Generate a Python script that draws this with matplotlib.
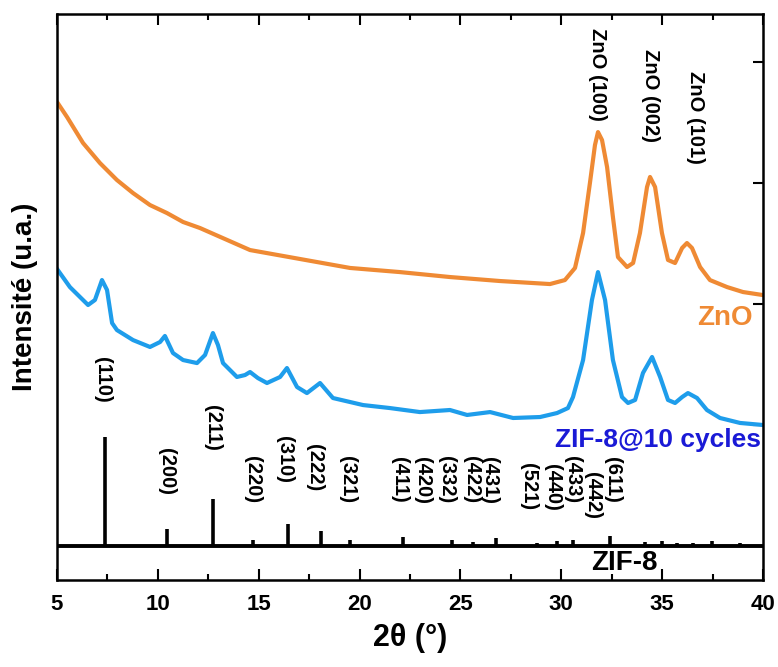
import matplotlib
matplotlib.use("Agg")
import matplotlib.pyplot as plt
from matplotlib.ticker import MultipleLocator

plt.rcParams['font.family'] = ['Liberation Sans', 'DejaVu Sans']
plt.rcParams['font.weight'] = 'bold'

# ---- data (2theta in degrees, intensity in arbitrary units, offset stacked) ----
zno_x = [5.0, 5.50, 6.29, 7.13, 7.97, 8.77, 9.61, 10.45, 11.25, 12.09, 14.57, 19.53,
         22.00, 24.48, 26.96, 29.44, 30.18, 30.68, 31.08, 31.42, 31.67, 31.82, 32.02,
         32.27, 32.56, 32.81, 33.26, 33.56, 33.90, 34.25, 34.40, 34.65, 34.99, 35.29,
         35.64, 35.99, 36.23, 36.48, 36.88, 37.37, 38.22, 39.01, 40.0]
zno_y = [3.67, 3.545, 3.331, 3.165, 3.025, 2.917, 2.818, 2.752, 2.678, 2.628, 2.446, 2.298,
         2.264, 2.223, 2.190, 2.165, 2.198, 2.298, 2.587, 3.0, 3.314, 3.421, 3.355,
         3.132, 2.719, 2.388, 2.306, 2.339, 2.587, 2.967, 3.050, 2.967, 2.587, 2.364,
         2.339, 2.463, 2.504, 2.463, 2.306, 2.198, 2.140, 2.099, 2.074]

zif10_x = [5.0, 5.64, 6.54, 6.88, 7.23, 7.48, 7.73, 7.97, 8.77, 9.61, 10.11, 10.35, 10.75,
           11.25, 11.94, 12.34, 12.73, 12.98, 13.23, 13.92, 14.32, 14.57, 14.96, 15.41,
           16.06, 16.40, 16.90, 17.39, 18.04, 18.68, 19.53, 20.17, 21.51, 22.99, 24.48,
           25.33, 26.47, 27.61, 28.95, 29.79, 30.33, 30.58, 31.08, 31.52, 31.82, 32.17,
           32.56, 33.01, 33.31, 33.66, 34.05, 34.50, 34.90, 35.29, 35.64, 35.99, 36.28,
           36.73, 37.22, 37.87, 38.86, 40.0]
zif10_y = [2.29, 2.140, 1.992, 2.033, 2.198, 2.116, 1.843, 1.785, 1.702, 1.645, 1.686, 1.736, 1.595,
           1.537, 1.512, 1.579, 1.760, 1.661, 1.512, 1.397, 1.413, 1.438, 1.388, 1.347,
           1.397, 1.471, 1.314, 1.264, 1.347, 1.223, 1.190, 1.165, 1.140, 1.107, 1.124,
           1.083, 1.107, 1.058, 1.066, 1.099, 1.140, 1.231, 1.537, 2.033, 2.264, 2.033,
           1.537, 1.231, 1.182, 1.207, 1.430, 1.562, 1.397, 1.207, 1.182, 1.231, 1.264,
           1.223, 1.124, 1.058, 1.017, 1.0]

zif8_peaks = [7.38, 10.45, 12.73, 14.72, 16.45, 18.09, 19.53, 22.15, 24.58, 25.62, 26.76,
              28.80, 29.79, 30.58, 32.42, 34.15, 34.99, 35.74, 36.53, 37.47, 38.86]
zif8_heights = [0.90, 0.14, 0.39, 0.05, 0.18, 0.12, 0.05, 0.075, 0.05, 0.03, 0.065,
                0.025, 0.04, 0.05, 0.08, 0.03, 0.04, 0.025, 0.025, 0.04, 0.025]

hkl_labels = ['(110)', '(200)', '(211)', '(220)', '(310)', '(222)', '(321)', '(411)', '(420)',
              '(332)', '(422)', '(431)', '(521)', '(440)', '(433)', '(442)', '(611)']
hkl_x = [7.28, 10.45, 12.73, 14.67, 16.30, 17.79, 19.38, 22.00, 23.10, 24.33, 25.57, 26.42,
         28.35, 29.54, 30.58, 31.57, 32.56]
hkl_y = [1.372, 0.612, 0.975, 0.545, 0.711, 0.645, 0.545, 0.545, 0.545, 0.545, 0.545, 0.545,
         0.488, 0.488, 0.545, 0.421, 0.545]

zno_labels = ['ZnO (100)', 'ZnO (002)', 'ZnO (101)']
zno_lab_x = [31.82, 34.40, 36.63]
zno_lab_y = [3.901, 3.727, 3.545]

ORANGE = '#EF8A34'
LBLUE = '#1E9DEB'
DBLUE = '#1A1AD6'

fig = plt.figure(figsize=(7.78, 6.67), dpi=100)
ax = fig.add_axes([57/778, 87/667, 706/778, 566/667])

ax.plot(zno_x, zno_y, color=ORANGE, lw=3.0, solid_joinstyle='round')
ax.plot(zif10_x, zif10_y, color=LBLUE, lw=3.0, solid_joinstyle='round')
ax.vlines(zif8_peaks, 0, zif8_heights, color='black', lw=2.6)
ax.plot([5, 40], [0, 0], color='black', lw=2.8)

for lab, x, y in zip(hkl_labels, hkl_x, hkl_y):
    ax.text(x, y, lab, rotation=-90, ha='center', va='center', fontsize=14.5,
            fontweight='bold', family='Liberation Sans')
for lab, x, y in zip(zno_labels, zno_lab_x, zno_lab_y):
    ax.text(x, y, lab, rotation=-90, ha='center', va='center', fontsize=14.5,
            fontweight='bold', family='Liberation Sans')

ax.text(39.5, 1.884, 'ZnO', color=ORANGE, ha='right', va='center', fontsize=20, fontweight='bold')
ax.text(39.9, 0.876, 'ZIF-8@10 cycles', color=DBLUE, ha='right', va='center', fontsize=19, fontweight='bold')
ax.text(33.11, -0.14, 'ZIF-8', color='black', ha='center', va='center', fontsize=20, fontweight='bold')

ax.set_xlim(5, 40)
ax.set_ylim(-0.281, 4.397)
ax.xaxis.set_major_locator(MultipleLocator(5))
ax.xaxis.set_minor_locator(MultipleLocator(2.5))
ax.set_yticks([0, 1, 2, 3, 4])
ax.tick_params(axis='x', which='major', direction='in', length=8, width=1.5, top=True,
               labelsize=16, pad=10)
ax.tick_params(axis='x', which='minor', direction='in', length=4, width=1.5, top=True)
ax.tick_params(axis='y', which='both', direction='in', length=7, width=1.5,
               left=False, right=True, labelleft=False, labelright=False)
for t in ax.get_xticklabels():
    t.set_fontweight('bold')
for s in ax.spines.values():
    s.set_linewidth(1.8)

ax.set_xlabel('2θ (°)', fontsize=22, fontweight='bold', labelpad=6)
ax.set_ylabel('Intensité (u.a.)', fontsize=20, fontweight='bold', labelpad=14)

fig.savefig('out.png', dpi=100)
